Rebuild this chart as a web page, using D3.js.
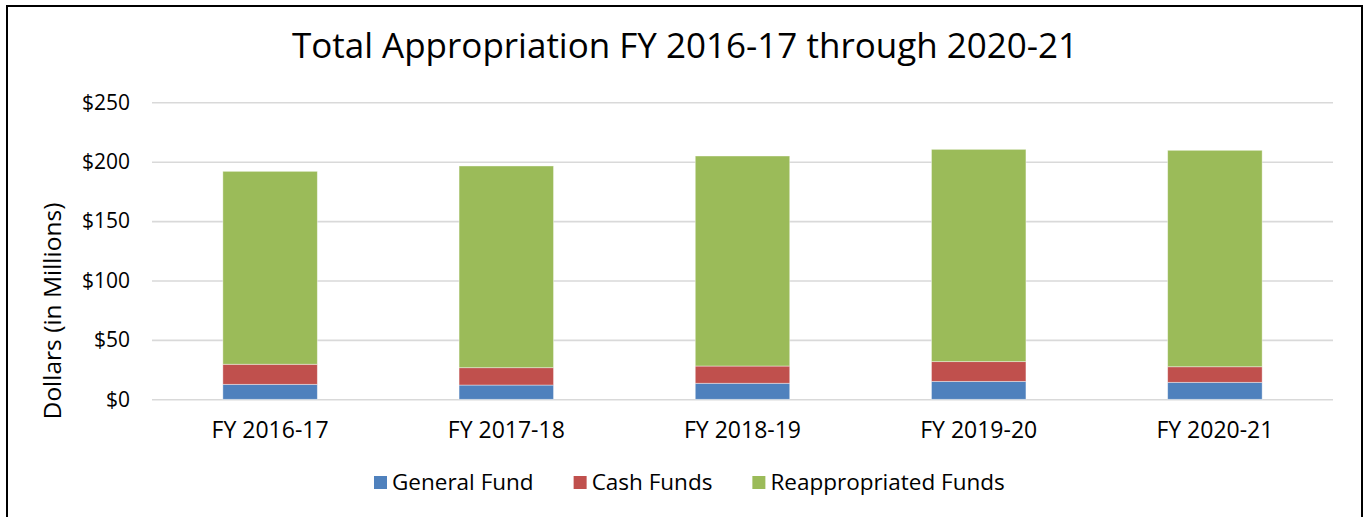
<!DOCTYPE html>
<html>
<head>
<meta charset="utf-8">
<script src="https://d3js.org/d3.v7.min.js"></script>
<style>
  body { margin: 0; background: #fff; }
  text { font-family: "Open Sans", sans-serif; fill: #000; }
</style>
</head>
<body>
<div id="chart"></div>
<script>
// data ($ millions)
var years = ["FY 2016-17", "FY 2017-18", "FY 2018-19", "FY 2019-20", "FY 2020-21"];
var generalFund = [12.6, 12.0, 13.5, 15.1, 14.3];
var cashFunds = [16.9, 14.6, 14.5, 16.6, 13.1];
var reappropriatedFunds = [162.4, 169.8, 176.8, 178.7, 182.2];
var seriesNames = ["General Fund", "Cash Funds", "Reappropriated Funds"];
var seriesColors = ["#4F81BD", "#C0504D", "#9BBB59"];
var yTicks = [0, 50, 100, 150, 200, 250];

var W = 1366, H = 517;
var plotL = 152, plotR = 1333, plotT = 102.3, plotB = 399.3;

var svg = d3.select("#chart")
  .append("svg")
    .attr("width", W)
    .attr("height", H);

svg.append("rect")
    .attr("x", 0).attr("y", 0)
    .attr("width", W).attr("height", H)
    .style("fill", "#fff");

// outer frame (bottom edge runs off the picture)
svg.append("rect")
    .attr("x", 7).attr("y", 6)
    .attr("width", 1355).attr("height", 530)
    .style("fill", "none")
    .style("stroke", "#000")
    .style("stroke-width", 2);

var x = d3.scaleBand()
  .domain(years)
  .range([plotL, plotR])
  .paddingInner(0.6)
  .paddingOuter(0.3);

var y = d3.scaleLinear()
  .domain([0, 250])
  .range([plotB, plotT]);

// gridlines + tick labels
var yAxis = d3.axisLeft(y)
  .tickValues(yTicks)
  .tickSize(-(plotR - plotL))
  .tickPadding(22)
  .tickFormat(function(d) { return "$" + d; });

var gy = svg.append("g")
  .attr("transform", "translate(" + plotL + ",0)")
  .call(yAxis);
gy.select(".domain").remove();
gy.selectAll(".tick line")
  .attr("stroke", "#D9D9D9")
  .attr("stroke-width", 1.6);
gy.selectAll(".tick text")
  .style("font-size", "21px");

// stacked bars
var table = years.map(function(d, i) {
  return { year: d, "General Fund": generalFund[i], "Cash Funds": cashFunds[i], "Reappropriated Funds": reappropriatedFunds[i] };
});
var stacked = d3.stack().keys(seriesNames)(table);

svg.append("g")
  .selectAll("g")
  .data(stacked)
  .enter()
  .append("g")
    .style("fill", function(d, i) { return seriesColors[i]; })
  .selectAll("rect")
  .data(function(d) { return d; })
  .enter()
  .append("rect")
    .attr("x", function(d) { return x(d.data.year); })
    .attr("y", function(d) { return y(d[1]); })
    .attr("width", x.bandwidth())
    .attr("height", function(d) { return y(d[0]) - y(d[1]); })
    .style("stroke", "#fff")
    .style("stroke-opacity", 0.5)
    .style("stroke-width", 0.8);

// category axis
var xAxis = d3.axisBottom(x).tickSize(0).tickPadding(22);
var gx = svg.append("g")
  .attr("transform", "translate(0," + plotB + ")")
  .call(xAxis);
gx.select(".domain").remove();
gx.selectAll(".tick text").style("font-size", "23px");

// title
svg.append("text")
  .attr("x", 685)
  .attr("y", 58)
  .attr("text-anchor", "middle")
  .style("font-size", "35px")
  .text("Total Appropriation FY 2016-17 through 2020-21");

// y title
svg.append("text")
  .attr("transform", "translate(61,311) rotate(-90)")
  .attr("text-anchor", "middle")
  .style("font-size", "24.5px")
  .text("Dollars (in Millions)");

// legend
var legend = svg.append("g").attr("transform", "translate(374,476)");
var lx = 0;
seriesNames.forEach(function(name, i) {
  var item = legend.append("g").attr("transform", "translate(" + lx + ",0)");
  item.append("rect")
    .attr("width", 13).attr("height", 13)
    .style("fill", seriesColors[i]);
  var t = item.append("text")
    .attr("x", 18)
    .attr("y", 14)
    .style("font-size", "22.5px")
    .text(name);
  lx += 18 + t.node().getComputedTextLength() + 40;
});
</script>
</body>
</html>
